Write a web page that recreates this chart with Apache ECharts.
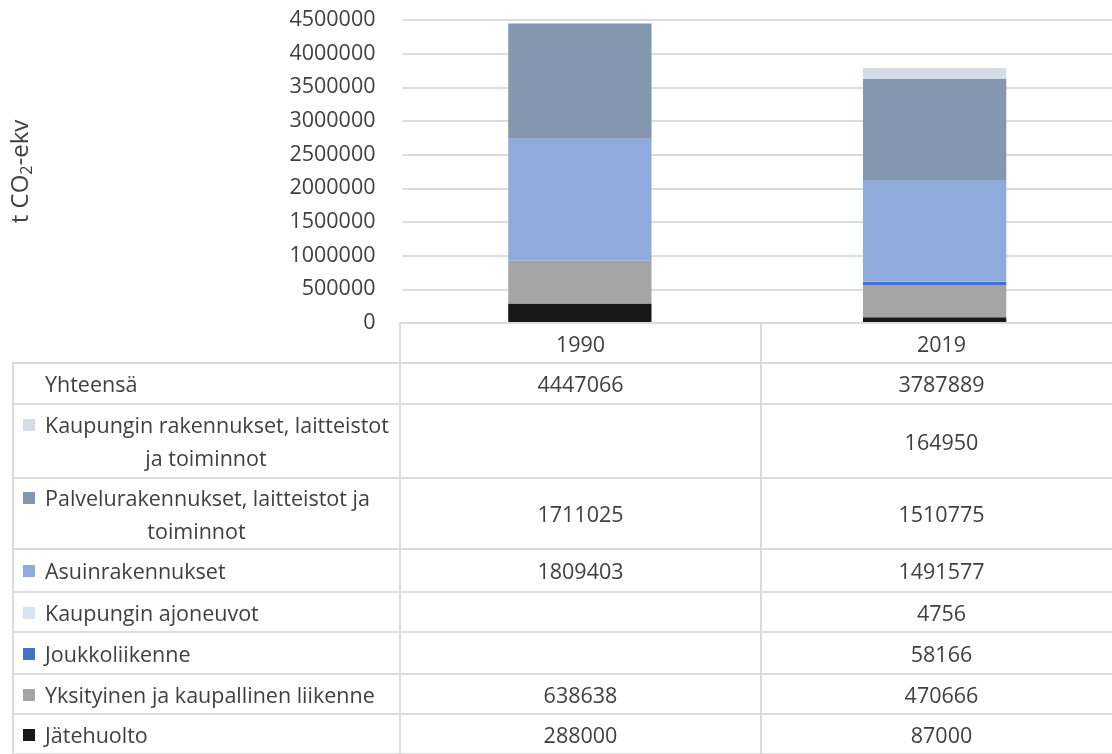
<!DOCTYPE html>
<html>
<head>
<meta charset="utf-8">
<script src="https://cdn.jsdelivr.net/npm/echarts@6/dist/echarts.min.js"></script>
<style>
  html, body { margin: 0; padding: 0; background: #fff; }
  #wrap { position: relative; width: 1112px; height: 754px; overflow: hidden; font-family: "Open Sans", sans-serif; color: #404040; }
  #chart { position: absolute; left: 0; top: 0; width: 1112px; height: 754px; }
  #table { position: absolute; left: 0; top: 0; width: 1112px; height: 754px; pointer-events: none; }
  .cell { position: absolute; box-sizing: border-box; display: flex; align-items: center; font-size: 21.5px; white-space: nowrap; }
  .num { justify-content: center; }
  .hl { position: absolute; height: 2px; background: #dcdcdc; }
  .vl { position: absolute; width: 2px; background: #dcdcdc; }
  .key { display: inline-block; width: 12px; height: 12px; margin-right: 10px; vertical-align: middle; position: relative; top: -2px; }
  .lbl { line-height: 33px; }
  .lbl2 { display: block; text-align: center; }
</style>
</head>
<body>
<div id="wrap">
  <div id="chart"></div>
  <div id="table"></div>
</div>
<script>
// Years on the category axis
const years = ['1990', '2019'];

// Emission sectors, bottom of the stack first (t CO2-ekv)
const jatehuolto    = [288000, 87000];
const yksityinen    = [638638, 470666];
const joukko        = [null, 58166];
const kaupAjoneuvot = [null, 4756];
const asuin         = [1809403, 1491577];
const palvelu       = [1711025, 1510775];
const kaupRak       = [null, 164950];
const yhteensa      = [4447066, 3787889];

// Value-axis tick labels
const yTicks = [0, 500000, 1000000, 1500000, 2000000, 2500000, 3000000, 3500000, 4000000, 4500000];

const seriesDefs = [
  { name: 'Jätehuolto', data: jatehuolto, color: '#181818' },
  { name: 'Yksityinen ja kaupallinen liikenne', data: yksityinen, color: '#a5a5a5' },
  { name: 'Joukkoliikenne', data: joukko, color: '#4472c4' },
  { name: 'Kaupungin ajoneuvot', data: kaupAjoneuvot, color: '#dae3f3' },
  { name: 'Asuinrakennukset', data: asuin, color: '#8faadc' },
  { name: 'Palvelurakennukset, laitteistot ja toiminnot', data: palvelu, color: '#8497b0' },
  { name: 'Kaupungin rakennukset, laitteistot ja toiminnot', data: kaupRak, color: '#d6dce5' }
];

const chart = echarts.init(document.getElementById('chart'), null, { renderer: 'canvas' });

chart.setOption({
  animation: false,
  grid: { left: 400, top: 20, width: 722, bottom: 431, containLabel: false },
  xAxis: {
    type: 'category',
    data: years,
    axisLine: { show: false },
    axisTick: { show: false },
    axisLabel: { show: false },
    splitLine: { show: false }
  },
  yAxis: {
    type: 'value',
    min: yTicks[0],
    max: yTicks[yTicks.length - 1],
    interval: 500000,
    axisLine: { show: false },
    axisTick: { show: false },
    axisLabel: {
      margin: 27,
      fontFamily: 'Open Sans',
      fontSize: 21.5,
      color: '#404040',
      formatter: v => String(v)
    },
    splitLine: { lineStyle: { color: '#dcdcdc', width: 2 } },
    name: '{n|t CO}{s|2}{n|-ekv}',
    nameLocation: 'middle',
    nameRotate: 90,
    nameGap: 366,
    nameTextStyle: {
      rich: {
        n: { fontFamily: 'Open Sans', fontSize: 24, color: '#404040', lineHeight: 30 },
        s: { fontFamily: 'Open Sans', fontSize: 16, color: '#404040', lineHeight: 30, padding: [11, 0, 0, 0] }
      }
    }
  },
  series: seriesDefs.map(d => ({
    name: d.name,
    type: 'bar',
    stack: 'total',
    data: d.data,
    barCategoryGap: '59.6%',
    itemStyle: { color: d.color },
    emphasis: { disabled: true }
  }))
});

// Data table under the plot: one row per series, topmost stack segment first
const fmt = v => (v == null ? '' : String(v));
const rows = [
  { label: 'Yhteensä', values: yhteensa, color: null },
  ...seriesDefs.slice().reverse().map(d => ({ label: d.name, values: d.data, color: d.color }))
];
// row heights in px for the header and each table row
const headerTop = 323, headerH = 40;
const rowH = [41, 74, 71, 43, 40, 42, 40, 40];
const colX = [13, 400, 761, 1122];

const tbl = document.getElementById('table');
function add(cls, style, html) {
  const el = document.createElement('div');
  el.className = cls;
  Object.assign(el.style, style);
  if (html != null) el.innerHTML = html;
  tbl.appendChild(el);
  return el;
}

// header row with the years
years.forEach((yr, i) => {
  add('cell num', { left: colX[i + 1] + 'px', top: headerTop + 'px', width: (colX[i + 2] - colX[i + 1]) + 'px', height: headerH + 'px' }, yr);
});
add('hl', { left: colX[1] - 1 + 'px', top: headerTop - 1 + 'px', width: (colX[3] - colX[1] + 2) + 'px' });

let y = headerTop + headerH;
add('hl', { left: colX[0] - 1 + 'px', top: y - 1 + 'px', width: (colX[3] - colX[0] + 2) + 'px' });
rows.forEach((r, k) => {
  const h = rowH[k];
  const key = r.color ? `<span class="key" style="background:${r.color}"></span>` : '';
  let labelHtml;
  if (r.label.length > 34) {
    // long names wrap after the third word, second line centred
    const words = r.label.split(' ');
    const first = words.slice(0, 3).join(' ');
    const rest = words.slice(3).join(' ');
    labelHtml = `<div class="lbl">${key}${first}<span class="lbl2">${rest}</span></div>`;
  } else {
    labelHtml = `<div>${key}${r.label}</div>`;
  }
  add('cell', { left: colX[0] + 10 + 'px', top: y + 'px', width: (colX[1] - colX[0] - 10) + 'px', height: h + 'px', paddingLeft: r.color ? '0px' : '22px' }, labelHtml);
  r.values.forEach((v, i) => {
    add('cell num', { left: colX[i + 1] + 'px', top: y + 'px', width: (colX[i + 2] - colX[i + 1]) + 'px', height: h + 'px' }, fmt(v));
  });
  y += h;
  add('hl', { left: colX[0] - 1 + 'px', top: y - 1 + 'px', width: (colX[3] - colX[0] + 2) + 'px' });
});
// vertical rules
add('vl', { left: colX[0] - 1 + 'px', top: headerTop + headerH - 1 + 'px', height: (754 - headerTop - headerH + 2) + 'px' });
add('vl', { left: colX[1] - 1 + 'px', top: headerTop - 1 + 'px', height: (754 - headerTop + 2) + 'px' });
add('vl', { left: colX[2] - 1 + 'px', top: headerTop - 1 + 'px', height: (754 - headerTop + 2) + 'px' });
</script>
</body>
</html>
